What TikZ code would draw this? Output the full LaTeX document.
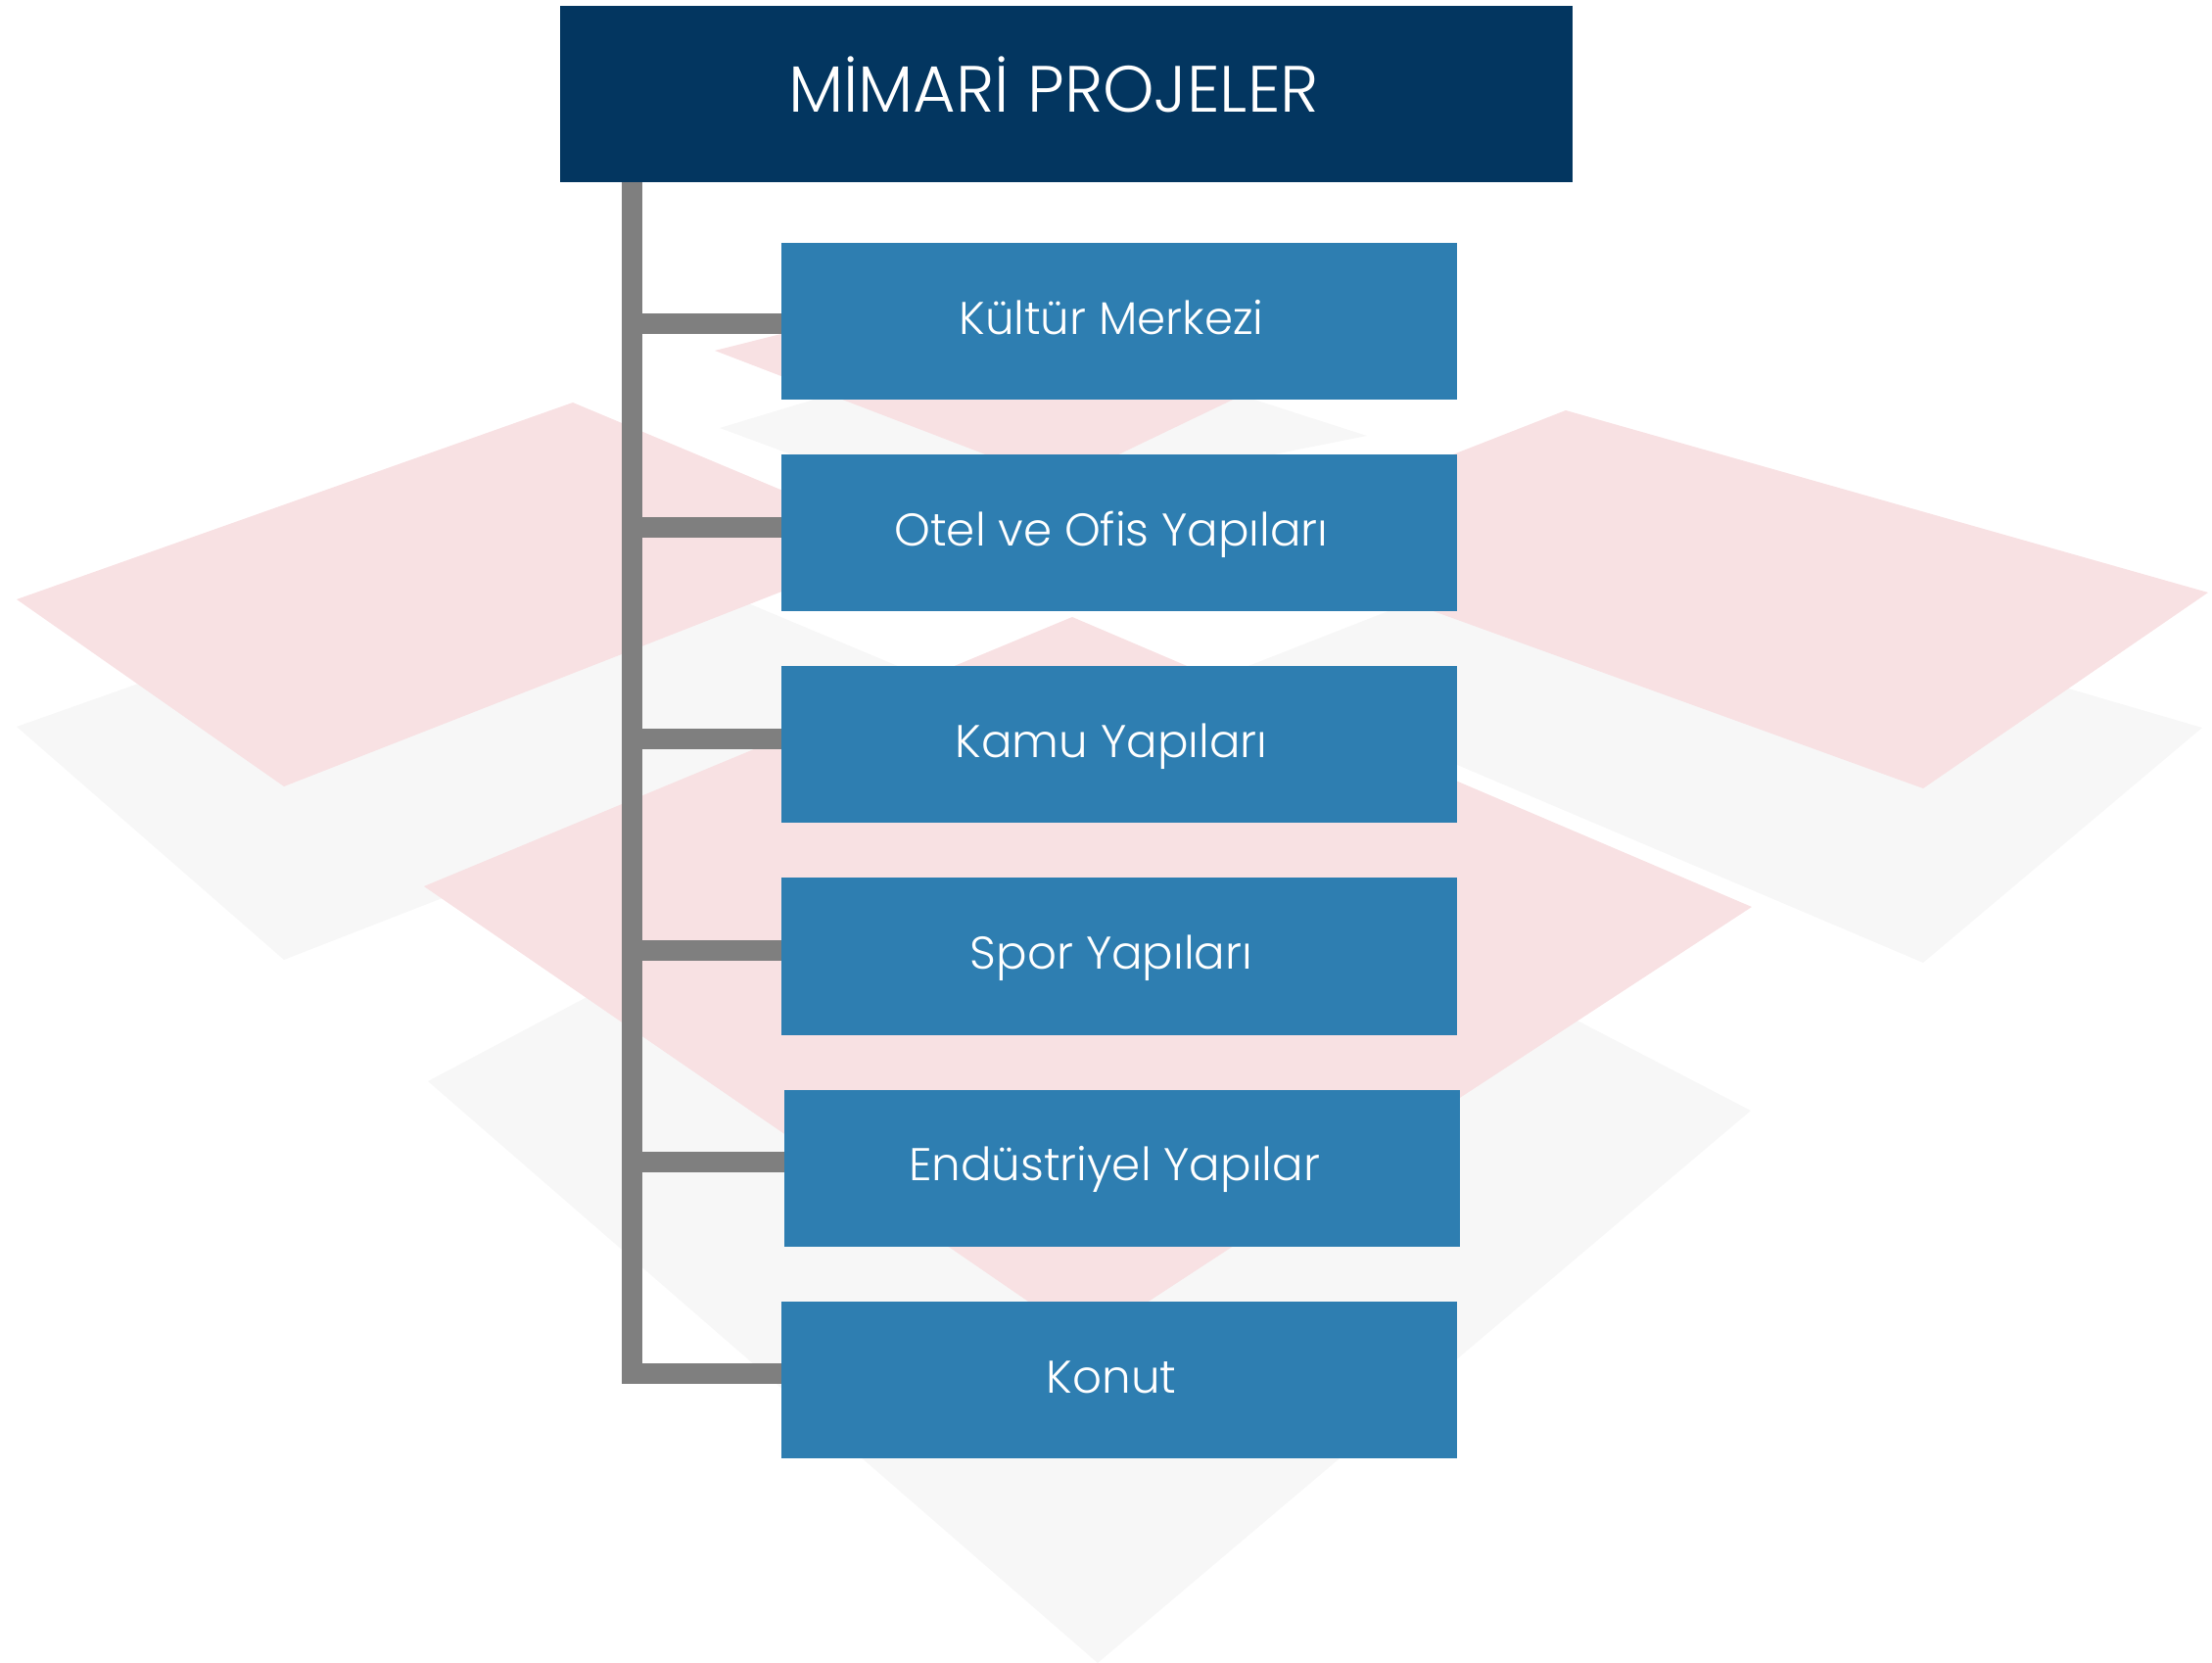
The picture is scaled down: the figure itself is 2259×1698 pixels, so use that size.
\documentclass[tikz,border=0pt]{standalone}
\usepackage{fontspec}
\setmainfont{Poppins}[UprightFont=* Light]
\usetikzlibrary{positioning}

\definecolor{titleblue}{RGB}{3,54,96}
\definecolor{boxblue}{RGB}{46,126,177}
\definecolor{linkgray}{RGB}{127,127,127}
\definecolor{tilepink}{RGB}{248,225,227}
\definecolor{tilegray}{RGB}{247,247,247}

\begin{document}
\begin{tikzpicture}[
    x=0.01cm, y=-0.01cm,
    node distance=0.56cm,
    header/.style={
        fill=titleblue,
        text=white,
        minimum width=10.34cm,
        minimum height=1.8cm,
        inner sep=0pt,
        outer sep=0pt,
        text height=10.5pt,
        text depth=0pt,
        font=\fontsize{19}{22}\selectfont\hspace*{-0.26cm}
    },
    box/.style={
        fill=boxblue,
        text=white,
        minimum width=6.9cm,
        minimum height=1.6cm,
        inner sep=0pt,
        outer sep=0pt,
        text height=7.6pt,
        text depth=0pt,
        font=\fontsize{13.3}{16}\selectfont\hspace*{-0.16cm}
    },
    link/.style={draw=linkgray, line width=0.21cm},
    graytile/.style={fill=tilegray},
    pinktile/.style={fill=tilepink}
]

\useasboundingbox (0,0) rectangle (2259,1698);

% background tiles
\fill[graytile] (17,742) -- (585,541) -- (986,709) -- (290,980) -- cycle;
\fill[graytile] (1262,685) -- (1599,553) -- (2249,743) -- (1964,983) -- cycle;
\fill[graytile] (437,1104) -- (1077,765) -- (1788,1134) -- (1121,1698) -- cycle;
\fill[graytile] (735,437) -- (1063,338) -- (1396,445) -- (981,528) -- cycle;

\fill[pinktile] (17,612) -- (585,411) -- (926,554) -- (290,803) -- cycle;
\fill[pinktile] (1262,551) -- (1599,419) -- (2255,605) -- (1964,805) -- cycle;
\fill[pinktile] (433,905) -- (1095,630) -- (1789,926) -- (1110,1370) -- cycle;
\fill[pinktile] (730,358) -- (1100,265) -- (1380,350) -- (1082,493) -- cycle;

\node[header] (title) at (1089,96) {MİMARİ PROJELER};

\node[box, below=0.62cm of title, xshift=0.54cm] (kultur) {Kültür Merkezi};
\node[box, below=of kultur] (otel) {Otel ve Ofis Yapıları};
\node[box, below=of otel] (kamu) {Kamu Yapıları};
\node[box, below=of kamu] (spor) {Spor Yapıları};
\node[box, below=of spor, xshift=0.03cm] (endustri) {Endüstriyel Yapılar};
\node[box, below=of endustri, xshift=-0.03cm] (konut) {Konut};

\coordinate (trunk) at ([xshift=0.74cm]title.south west);

\draw[link] (trunk) |- ([yshift=-0.02cm]kultur.west);
\draw[link] (trunk) |- ([yshift=0.06cm]otel.west);
\draw[link] (trunk) |- ([yshift=0.06cm]kamu.west);
\draw[link] (trunk) |- ([yshift=0.06cm]spor.west);
\draw[link] (trunk) |- ([yshift=0.06cm]endustri.west);
\draw[link] (trunk) |- ([yshift=0.06cm]konut.west);

\end{tikzpicture}
\end{document}
